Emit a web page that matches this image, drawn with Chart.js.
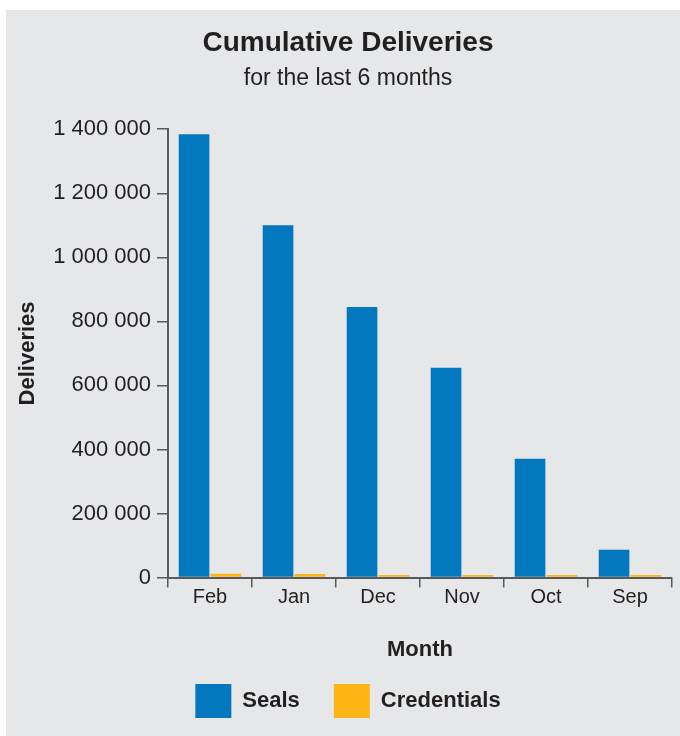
<!DOCTYPE html>
<html>
<head>
<meta charset="utf-8">
<script src="https://cdn.jsdelivr.net/npm/chart.js@4"></script>
<style>
  html, body { margin: 0; padding: 0; background: #ffffff; overflow: hidden; }
  #wrap {
    position: absolute;
    left: 6px;
    top: 10px;
    width: 674px;
    height: 726px;
    background: #e6e7e8;
  }
  #chart { display: block; }
</style>
</head>
<body>
<div id="wrap">
  <canvas id="chart" width="674" height="726"></canvas>
</div>
<script>
const months = ["Feb", "Jan", "Dec", "Nov", "Oct", "Sep"];
const seals = [1384000, 1100000, 845000, 655000, 371000, 87000];
const credentials = [12000, 11000, 8000, 8000, 8000, 8000];
const yTicks = [0, 200000, 400000, 600000, 800000, 1000000, 1200000, 1400000];

const axisColor = "#58595b";
const textColor = "#231f20";

function spaced(v) {
  return String(v).replace(/\B(?=(\d{3})+(?!\d))/g, " ");
}

const ctx = document.getElementById("chart");
new Chart(ctx, {
  type: "bar",
  data: {
    labels: months,
    datasets: [
      {
        label: "Seals",
        data: seals,
        backgroundColor: "#0478bf",
        categoryPercentage: 0.76,
        barPercentage: 0.96,
      },
      {
        label: "Credentials",
        data: credentials,
        backgroundColor: "#fdb515",
        categoryPercentage: 0.76,
        barPercentage: 0.96,
      },
    ],
  },
  options: {
    responsive: false,
    animation: false,
    layout: {
      padding: { left: 18, right: 8, top: 0, bottom: 8 },
    },
    plugins: {
      title: {
        display: true,
        text: "Cumulative Deliveries",
        color: textColor,
        font: { family: "Liberation Sans", size: 28, weight: "bold" },
        padding: { top: 16, bottom: 4 },
      },
      subtitle: {
        display: true,
        text: "for the last 6 months",
        color: textColor,
        font: { family: "Liberation Sans", size: 23 },
        padding: { top: 1, bottom: 37 },
      },
      legend: {
        position: "bottom",
        labels: {
          color: textColor,
          boxWidth: 36,
          boxHeight: 34,
          padding: 34,
          font: { family: "Liberation Sans", size: 22, weight: "bold" },
        },
      },
      tooltip: { enabled: false },
    },
    scales: {
      x: {
        grid: {
          drawOnChartArea: false,
          drawTicks: true,
          tickLength: 10,
          color: axisColor,
          lineWidth: 1.5,
        },
        border: { color: axisColor, width: 2 },
        ticks: {
          color: textColor,
          padding: -2,
          font: { family: "Liberation Sans", size: 20 },
        },
        title: {
          display: true,
          text: "Month",
          color: textColor,
          font: { family: "Liberation Sans", size: 22, weight: "bold" },
          padding: { top: 29, bottom: -13 },
        },
      },
      y: {
        min: 0,
        max: 1400000,
        afterBuildTicks: (axis) => {
          axis.ticks = yTicks.map((v) => ({ value: v }));
        },
        afterFit: (axis) => {
          axis.width = 144;
        },
        grid: {
          drawOnChartArea: false,
          drawTicks: true,
          tickLength: 11,
          color: axisColor,
          lineWidth: 1.5,
        },
        border: { color: axisColor, width: 2 },
        ticks: {
          color: textColor,
          padding: 6,
          font: { family: "Liberation Sans", size: 22 },
          callback: (v) => spaced(v),
        },
        title: {
          display: true,
          text: "Deliveries",
          color: textColor,
          font: { family: "Liberation Sans", size: 22, weight: "bold" },
          padding: { top: -9, bottom: 4 },
        },
      },
    },
  },
});
</script>
</body>
</html>
